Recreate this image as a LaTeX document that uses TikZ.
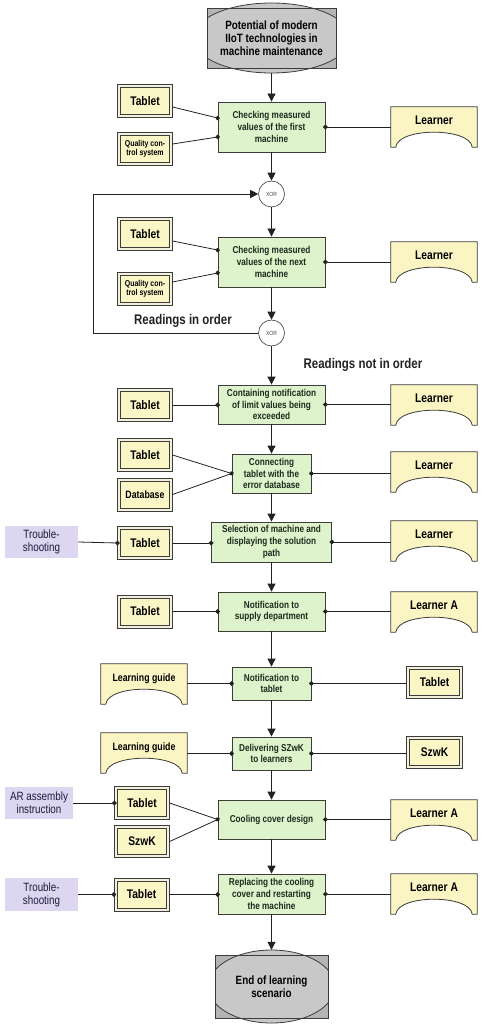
\documentclass[tikz,border=0pt]{standalone}
\usepackage{fontspec}
\setmainfont{Liberation Sans}[FakeStretch=0.82]
\usetikzlibrary{arrows.meta,calc,backgrounds}
\definecolor{fgreen}{HTML}{DEF3CB}
\definecolor{bordc}{HTML}{3C3C3C}
\definecolor{linec}{HTML}{222222}
\definecolor{resfill}{HTML}{FAF6C6}
\definecolor{dblc}{HTML}{F2EFDA}
\definecolor{lrnfill}{HTML}{FAF5C2}
\definecolor{purp}{HTML}{DDD6F0}
\definecolor{navy}{HTML}{1C1C3C}
\definecolor{evg}{HTML}{C8C8C8}
\definecolor{evc}{HTML}{B4B4B4}
\definecolor{txtc}{HTML}{1E2A1E}
\newcommand\lrnshape[1]{\filldraw[fill=lrnfill, draw=bordc, line width=0.8pt] (#1.north west) -- (#1.north east) -- (#1.south east) -- ++(-5,0) .. controls +(-2,-20) and +(2,-20) .. ($(#1.south west)+(5,0)$) -- (#1.south west) -- cycle;}
\newcommand\resbox[1]{\draw[bordc, line width=0.8pt] (#1.north west) rectangle (#1.south east);}
\begin{document}
\begin{tikzpicture}[x=1pt, y=-1pt,
 func/.style={draw=bordc, fill=fgreen, line width=0.8pt, align=center, inner sep=1pt, text=txtc, font=\bfseries\fontsize{10}{11.7}\selectfont},
 res/.style={draw=bordc, fill=resfill, line width=0.8pt, inner sep=0pt, outer sep=3pt, text=black, align=center, minimum width=49.2pt, minimum height=27.2pt, font=\bfseries\fontsize{12.5}{14}\selectfont},
 lrn/.style={inner sep=0pt, text height=8pt, text depth=13pt, minimum width=86pt, minimum height=40pt, font=\bfseries\fontsize{12.5}{14}\selectfont},
 ext/.style={fill=purp, text=navy, align=center, inner sep=0pt, font=\fontsize{12}{13}\selectfont},
 xor/.style={circle, draw=bordc, fill=white, line width=0.6pt, minimum size=26pt, inner sep=0pt, font=\fontsize{6}{6}\selectfont, text=darkgray},
 evt/.style={align=center, inner sep=0pt, font=\bfseries\fontsize{12}{13.2}\selectfont},
 arr/.style={draw=linec, line width=0.8pt, -{Triangle[length=8pt,width=8pt]}},
 dotl/.style={draw=linec, line width=0.8pt, -{Circle[length=4.5pt]}, shorten >=-2.25pt},
 plain/.style={draw=linec, line width=0.8pt},
 lab/.style={font=\bfseries\fontsize{14}{16}\selectfont, text=linec}]
\useasboundingbox (0,0) rectangle (482,1024);
% events
\node[evt, minimum width=129pt, minimum height=70pt] (start) at (271.5,38) {Potential of modern\\IIoT technologies in\\machine maintenance};
\node[evt, minimum width=113pt, minimum height=73pt] (end) at (271.5,986.5) {End of learning\\scenario};
% functions
\node[func, minimum width=107pt, minimum height=50pt] (f1) at (271.5,127) {Checking measured\\values of the first\\machine};
\node[xor] (x1) at (271.5,194) {XOR};
\node[func, minimum width=107pt, minimum height=50pt] (f2) at (271.5,262) {Checking measured\\values of the next\\machine};
\node[xor] (x2) at (271.5,333) {XOR};
\node[func, minimum width=107pt, minimum height=39pt] (f3) at (271.5,404.5) {Containing notification\\of limit values being\\exceeded};
\node[func, minimum width=79pt, minimum height=39pt] (f4) at (271.5,473.5) {Connecting\\tablet with the\\error database};
\node[func, minimum width=120pt, minimum height=40pt] (f5) at (271.5,542) {Selection of machine and\\displaying the solution\\path};
\node[func, minimum width=107pt, minimum height=39pt] (f6) at (271.5,611.5) {Notification to\\supply department};
\node[func, minimum width=79pt, minimum height=33pt] (f7) at (271.5,683.5) {Notification to\\tablet};
\node[func, minimum width=79pt, minimum height=33pt] (f8) at (271.5,753.5) {Delivering SZwK\\to learners};
\node[func, minimum width=107pt, minimum height=39pt] (f9) at (271.5,819.5) {Cooling cover design};
\node[func, minimum width=107pt, minimum height=40pt] (f10) at (271.5,894) {Replacing the cooling\\cover and restarting\\the machine};
% resources
\node[res] (t1) at (145,101) {Tablet};
\node[res, font=\bfseries\fontsize{8.5}{9.2}\selectfont] (q1) at (145,149) {Quality con-\\trol system};
\node[res] (t2) at (145,234) {Tablet};
\node[res, font=\bfseries\fontsize{8.5}{9.2}\selectfont] (q2) at (145,289) {Quality con-\\trol system};
\node[res] (t3) at (145,405) {Tablet};
\node[res] (t4) at (145,455) {Tablet};
\node[res, font=\bfseries\fontsize{10.7}{12}\selectfont] (db) at (145,494.5) {Database};
\node[res] (t5) at (145,543) {Tablet};
\node[res] (t6) at (145,611.5) {Tablet};
\node[res, minimum width=50.2pt, minimum height=26.2pt] (t7) at (434.5,682.5) {Tablet};
\node[res, minimum width=50.2pt, minimum height=26.2pt] (s8) at (434.5,752.5) {SzwK};
\node[res] (t9) at (142,803) {Tablet};
\node[res, minimum height=26.2pt] (s9) at (142,841.5) {SzwK};
\node[res] (t10) at (141.5,894.5) {Tablet};
\foreach \n in {t1,q1,t2,q2,t3,t4,db,t5,t6,t7,s8,t9,s9,t10} {\resbox{\n}}
% learners
\node[lrn] (l1) at (434,127) {Learner};
\node[lrn] (l2) at (434,262) {Learner};
\node[lrn] (l3) at (434,405) {Learner};
\node[lrn] (l4) at (434,472) {Learner};
\node[lrn] (l5) at (434,541) {Learner};
\node[lrn] (l6) at (434,612) {Learner A};
\node[lrn] (l9) at (434,820) {Learner A};
\node[lrn] (l10) at (434,894) {Learner A};
\node[lrn, font=\bfseries\fontsize{10.7}{12}\selectfont] (g7) at (144,684) {Learning guide};
\node[lrn, font=\bfseries\fontsize{10.7}{12}\selectfont] (g8) at (144,753) {Learning guide};
% external
\node[ext, minimum width=73pt, minimum height=32pt] (ts5) at (41.5,542) {Trouble-\\shooting};
\node[ext, minimum width=68pt, minimum height=32pt] (ar9) at (39,803) {AR assembly\\instruction};
\node[ext, minimum width=73pt, minimum height=33pt] (ts10) at (41.5,894.5) {Trouble-\\shooting};
% labels
\node[lab] (rio) at (183,321) {Readings in order};
\node[lab] (rnio) at (363,365) {Readings not in order};
% flow
\draw[arr] (start) -- (f1);
\draw[arr] (f1) -- (x1);
\draw[arr] (x1) -- (f2);
\draw[arr] (f2) -- (x2);
\draw[arr] (x2) -- (f3);
\draw[arr] (f3) -- (f4);
\draw[arr] (f4) -- (f5);
\draw[arr] (f5) -- (f6);
\draw[arr] (f6) -- (f7);
\draw[arr] (f7) -- (f8);
\draw[arr] (f8) -- (f9);
\draw[arr] (f9) -- (f10);
\draw[arr] (f10) -- (end);
\coordinate (lp) at (93,333);
\draw[arr] (x2.west) -- (lp) |- (x1.west);
% resource links
\draw[dotl] ($(t1.east)+(0,6)$) -- ($(f1.west)+(0,-9)$);
\draw[dotl] ($(q1.east)+(0,-5)$) -- ($(f1.west)+(0,10)$);
\draw[dotl] (l1.west |- f1.east) -- (f1.east);
\draw[dotl] ($(t2.east)+(0,7)$) -- ($(f2.west)+(0,-12)$);
\draw[dotl] ($(q2.east)+(0,-7)$) -- ($(f2.west)+(0,11)$);
\draw[dotl] (l2.west |- f2.east) -- (f2.east);
\draw[dotl] (t3.east) -- (t3.east -| f3.west);
\draw[dotl] (l3.west |- f3.east) -- (f3.east);
\draw[plain] (t4.east) -- (f4.west);
\draw[dotl] (db.east) -- (f4.west);
\draw[dotl] (l4.west |- f4.east) -- (f4.east);
\draw[dotl] (ts5.east) -- (t5.west);
\draw[dotl] (t5.east) -- (t5.east -| f5.west);
\draw[dotl] (l5.west |- f5.east) -- (f5.east);
\draw[dotl] (t6.east) -- (f6.west);
\draw[dotl] (l6.west |- f6.east) -- (f6.east);
\draw[dotl] (g7.east |- f7.west) -- (f7.west);
\draw[dotl] (t7.west |- f7.east) -- (f7.east);
\draw[dotl] (g8.east |- f8.west) -- (f8.west);
\draw[dotl] (s8.west |- f8.east) -- (f8.east);
\draw[dotl] (ar9.east) -- (t9.west);
\draw[plain] (t9.east) -- (f9.west);
\draw[dotl] (s9.east) -- (f9.west);
\draw[dotl] (l9.west |- f9.east) -- (f9.east);
\draw[dotl] (ts10.east) -- (t10.west);
\draw[dotl] (t10.east) -- (t10.east -| f10.west);
\draw[dotl] (l10.west |- f10.east) -- (f10.east);
% background shapes
\begin{pgfonlayer}{background}
\fill[white] (0,0) rectangle (482,1024);
\foreach \n in {t1,q1,t2,q2,t3,t4,db,t5,t6,t7,s8,t9,s9,t10} {\fill[dblc] (\n.north west) rectangle (\n.south east);}
\fill[evc] (207,8) rectangle (336,68);
\begin{scope}
\clip (207,-10) rectangle (336,90);
\filldraw[fill=evg, draw=bordc, line width=0.8pt] (271.5,38) ellipse [x radius=78.6, y radius=35];
\end{scope}
\draw[bordc, line width=0.8pt] (207,8) rectangle (336,68);
\fill[evc] (215,955) rectangle (328,1018);
\begin{scope}
\clip (215,940) rectangle (328,1030);
\filldraw[fill=evg, draw=bordc, line width=0.8pt] (271.5,986.5) ellipse [x radius=63.3, y radius=36.5];
\end{scope}
\draw[bordc, line width=0.8pt] (215,955) rectangle (328,1018);
\foreach \n in {l1,l2,l3,l4,l5,l6,l9,l10,g7,g8} {\lrnshape{\n}}
\end{pgfonlayer}
\end{tikzpicture}
\end{document}
